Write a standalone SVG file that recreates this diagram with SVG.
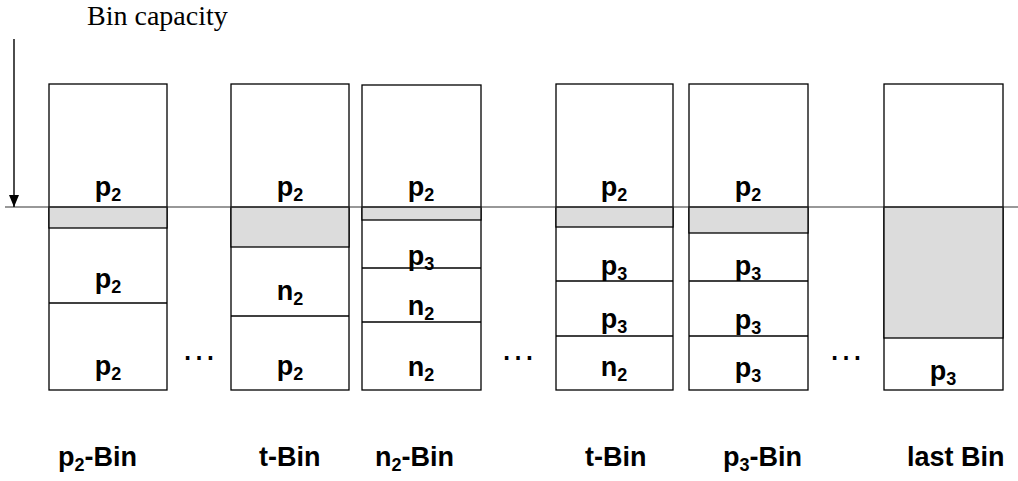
<svg xmlns="http://www.w3.org/2000/svg" width="1018" height="481" viewBox="0 0 1018 481">
<style>
.bin{fill:#ffffff;stroke:#000;stroke-width:1.3}
.fill{fill:#dcdcdc;stroke:#000;stroke-width:1.3}
.div{stroke:#000;stroke-width:1.3;fill:none}
.lbl{font-family:"Liberation Sans",Arial,sans-serif;font-weight:bold;font-size:27px;fill:#000}
.in{text-anchor:middle}
.sub{font-size:18px}
.dots{font-family:"Liberation Sans",Arial,sans-serif;font-size:36px;fill:#000;text-anchor:middle}
.cap{font-family:"Liberation Serif","Times New Roman",serif;font-size:28px;fill:#000}
</style>
<defs>
<marker id="ah" markerWidth="12" markerHeight="10" refX="12" refY="5" orient="auto" markerUnits="userSpaceOnUse" viewBox="0 0 12 10">
<path d="M0,0 L12,5 L0,10 Z" fill="#000"/>
</marker>
</defs>
<rect width="1018" height="481" fill="#fff"/>
<text class="cap" x="87" y="25">Bin capacity</text>

<g id="bin1">
<rect class="bin" x="49" y="84" width="118" height="306"/>
<rect class="fill" x="49" y="207" width="118" height="21"/>
<line class="div" x1="49" y1="303" x2="167" y2="303"/>
<text class="lbl in" x="108" y="196">p<tspan class="sub" dy="5">2</tspan></text>
<text class="lbl in" x="108" y="288">p<tspan class="sub" dy="5">2</tspan></text>
<text class="lbl in" x="108" y="375">p<tspan class="sub" dy="5">2</tspan></text>
</g>

<g id="bin2">
<rect class="bin" x="231" y="84" width="118" height="306"/>
<rect class="fill" x="231" y="207" width="118" height="40"/>
<line class="div" x1="231" y1="316" x2="349" y2="316"/>
<text class="lbl in" x="290" y="196">p<tspan class="sub" dy="5">2</tspan></text>
<text class="lbl in" x="290" y="300">n<tspan class="sub" dy="5">2</tspan></text>
<text class="lbl in" x="290" y="375">p<tspan class="sub" dy="5">2</tspan></text>
</g>

<g id="bin3">
<rect class="bin" x="362" y="85" width="119" height="305"/>
<rect class="fill" x="362" y="207" width="119" height="13"/>
<line class="div" x1="362" y1="268" x2="481" y2="268"/>
<line class="div" x1="362" y1="322" x2="481" y2="322"/>
<text class="lbl in" x="421" y="196">p<tspan class="sub" dy="5">2</tspan></text>
<text class="lbl in" x="421" y="265">p<tspan class="sub" dy="5">3</tspan></text>
<text class="lbl in" x="421" y="315">n<tspan class="sub" dy="5">2</tspan></text>
<text class="lbl in" x="421" y="376">n<tspan class="sub" dy="5">2</tspan></text>
</g>

<g id="bin4">
<rect class="bin" x="556" y="84" width="117" height="306"/>
<rect class="fill" x="556" y="207" width="117" height="20"/>
<line class="div" x1="556" y1="281" x2="673" y2="281"/>
<line class="div" x1="556" y1="336" x2="673" y2="336"/>
<text class="lbl in" x="614" y="196">p<tspan class="sub" dy="5">2</tspan></text>
<text class="lbl in" x="614" y="275">p<tspan class="sub" dy="5">3</tspan></text>
<text class="lbl in" x="614" y="328">p<tspan class="sub" dy="5">3</tspan></text>
<text class="lbl in" x="614" y="376">n<tspan class="sub" dy="5">2</tspan></text>
</g>

<g id="bin5">
<rect class="bin" x="689" y="84" width="119" height="306"/>
<rect class="fill" x="689" y="207" width="119" height="26"/>
<line class="div" x1="689" y1="281" x2="808" y2="281"/>
<line class="div" x1="689" y1="336" x2="808" y2="336"/>
<text class="lbl in" x="748" y="196">p<tspan class="sub" dy="5">2</tspan></text>
<text class="lbl in" x="748" y="275">p<tspan class="sub" dy="5">3</tspan></text>
<text class="lbl in" x="748" y="329">p<tspan class="sub" dy="5">3</tspan></text>
<text class="lbl in" x="748" y="377">p<tspan class="sub" dy="5">3</tspan></text>
</g>

<g id="bin6">
<rect class="bin" x="884" y="84" width="119" height="306"/>
<rect class="fill" x="884" y="207" width="119" height="131"/>
<text class="lbl in" x="943" y="380">p<tspan class="sub" dy="5">3</tspan></text>
</g>

<g id="connectors">
<line x1="5" y1="207" x2="1018" y2="207" stroke="#333" stroke-width="1.2"/>
<line x1="14" y1="39" x2="14" y2="207" stroke="#000" stroke-width="1.4" marker-end="url(#ah)"/>
</g>

<g id="ellipses">
<text class="dots" x="199" y="360">…</text>
<text class="dots" x="518" y="360">…</text>
<text class="dots" x="846" y="360">…</text>
</g>

<g id="labels">
<text class="lbl" x="58" y="466">p<tspan class="sub" dy="5">2</tspan><tspan dy="-5">-Bin</tspan></text>
<text class="lbl" x="259" y="466">t-Bin</text>
<text class="lbl" x="375" y="466">n<tspan class="sub" dy="5">2</tspan><tspan dy="-5">-Bin</tspan></text>
<text class="lbl" x="585" y="466">t-Bin</text>
<text class="lbl" x="723" y="466">p<tspan class="sub" dy="5">3</tspan><tspan dy="-5">-Bin</tspan></text>
<text class="lbl" x="907" y="466">last Bin</text>
</g>
</svg>
